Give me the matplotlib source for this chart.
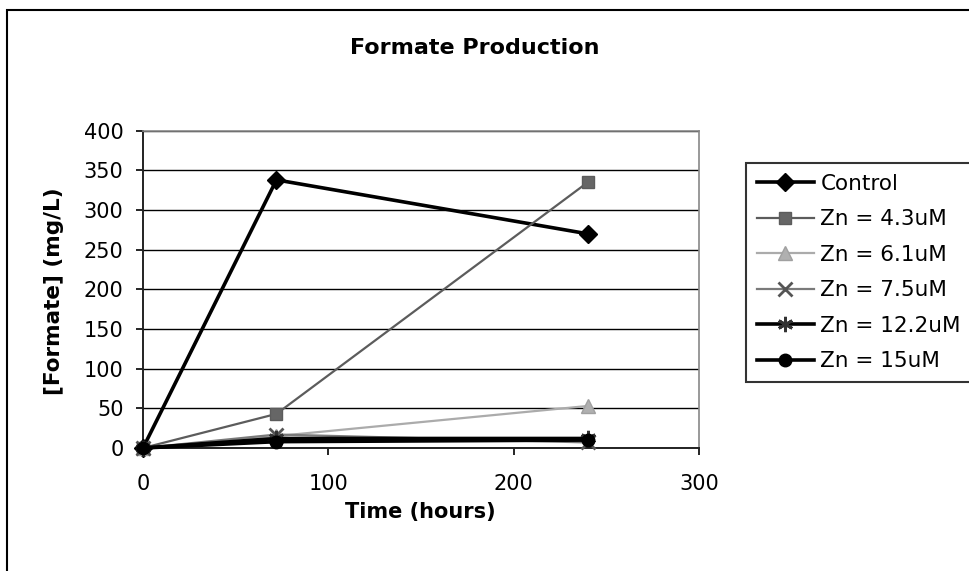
import matplotlib
matplotlib.use("Agg")
import matplotlib.pyplot as plt
from matplotlib.patches import Rectangle

plt.rcParams['font.family'] = ['DejaVu Sans']

# Sampling times (hours) and formate concentrations (mg/L)
time_h = [0, 72, 240]
series_names = ["Control", "Zn = 4.3uM", "Zn = 6.1uM", "Zn = 7.5uM",
                "Zn = 12.2uM", "Zn = 15uM"]
control = [0, 338, 270]
zn_4_3 = [0, 43, 335]
zn_6_1 = [0, 15, 53]
zn_7_5 = [0, 17, 7]
zn_12_2 = [0, 12, 12]
zn_15 = [0, 8, 10]

x_ticks = [0, 100, 200, 300]
y_ticks = [0, 50, 100, 150, 200, 250, 300, 350, 400]

W, H = 969, 571
fig = plt.figure(figsize=(W / 100, H / 100), dpi=100)

# Outer chart border (runs past the right and bottom edges)
fig.patches.append(Rectangle((7 / W, -0.05), 1.2, 1 - 10 / H + 0.05,
                             transform=fig.transFigure, fill=False,
                             edgecolor='black', linewidth=1.5))

ax = fig.add_axes([143 / W, 1 - 448 / H, (699 - 143) / W, (448 - 130.7) / H])

styles = [
    dict(color='black', lw=2.6, marker='D', ms=9, mfc='black', mec='black'),
    dict(color='#5c5c5c', lw=1.6, marker='s', ms=9, mfc='#666666', mec='#5c5c5c'),
    dict(color='#ababab', lw=1.6, marker='^', ms=10, mfc='#b0b0b0', mec='#a0a0a0'),
    dict(color='#7a7a7a', lw=1.6, marker='x', ms=10, mew=2.0, mec='#555555'),
    dict(color='black', lw=2.6, marker=(6, 2, 0), ms=11, mew=2.0, mec='#333333'),
    dict(color='black', lw=2.6, marker='o', ms=9, mfc='black', mec='black'),
]
data = [control, zn_4_3, zn_6_1, zn_7_5, zn_12_2, zn_15]

handles = []
for name, vals, st in zip(series_names, data, styles):
    h, = ax.plot(time_h, vals, label=name, clip_on=False, zorder=3, **st)
    handles.append(h)

ax.set_xlim(0, 300)
ax.set_ylim(0, 400)
ax.set_xticks(x_ticks)
ax.set_yticks(y_ticks)
ax.tick_params(axis='both', labelsize=15, length=5, width=1.2, direction='out',
               color='black')
ax.tick_params(axis='x', pad=14)
ax.tick_params(axis='y', pad=9)

ax.yaxis.grid(True, color='black', linewidth=1.0)
ax.set_axisbelow(True)
for side in ('top', 'right'):
    ax.spines[side].set_color('#888888')
    ax.spines[side].set_linewidth(1.2)
for side in ('left', 'bottom'):
    ax.spines[side].set_color('#222222')
    ax.spines[side].set_linewidth(1.4)

ax.set_xlabel("Time (hours)", fontsize=15, fontweight='bold',
              ha='center', va='center')
ax.xaxis.set_label_coords(420 / W, 1 - 512 / H, transform=fig.transFigure)
ax.set_ylabel("[Formate] (mg/L)", fontsize=15.5, fontweight='bold',
              ha='center', va='center', rotation_mode='default')
ax.yaxis.set_label_coords(54 / W, 1 - 291 / H, transform=fig.transFigure)

fig.text(475 / W, 1 - 48 / H, "Formate Production", fontsize=16,
         fontweight='bold', ha='center', va='center')

leg = fig.legend(handles=handles, loc='upper left',
                 bbox_to_anchor=(746 / W, 1 - 163 / H), fontsize=15.5,
                 frameon=True, fancybox=False, edgecolor='black',
                 handlelength=2.65, handletextpad=0.3, labelspacing=0.72,
                 borderpad=0.5, borderaxespad=0)
leg.get_frame().set_linewidth(1.5)

fig.savefig("out.png", dpi=100)
